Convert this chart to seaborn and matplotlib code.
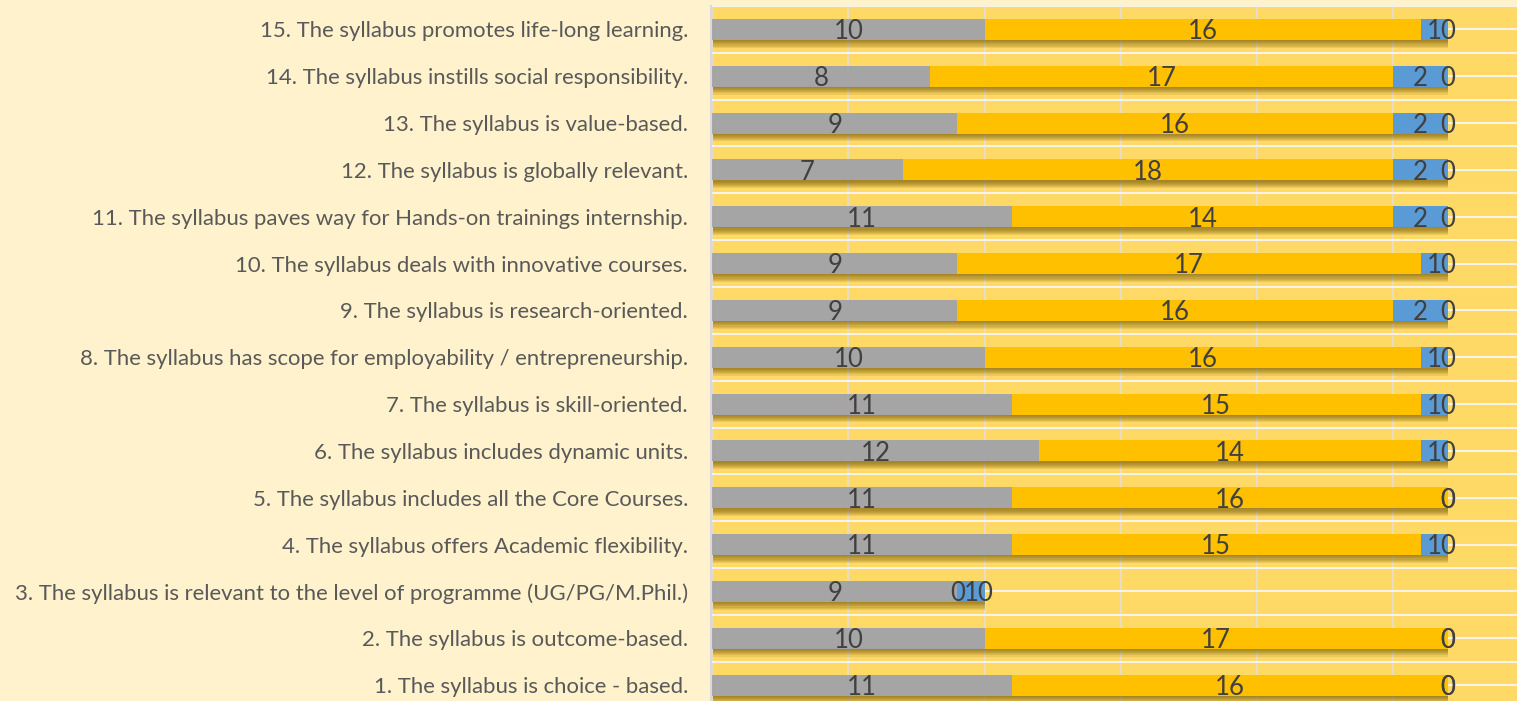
import numpy as np
import pandas as pd
import matplotlib
matplotlib.use('Agg')
import matplotlib.pyplot as plt
import matplotlib.patheffects as pe
import seaborn as sns

# survey statements, top row first
statements = [
    "15. The syllabus promotes life-long learning.",
    "14. The syllabus instills social responsibility.",
    "13. The syllabus is value-based.",
    "12. The syllabus is globally relevant.",
    "11. The syllabus paves way for Hands-on trainings internship.",
    "10. The syllabus deals with innovative courses.",
    "9. The syllabus is research-oriented.",
    "8. The syllabus has scope for employability / entrepreneurship.",
    "7. The syllabus is skill-oriented.",
    "6. The syllabus includes dynamic units.",
    "5. The syllabus includes all the Core Courses.",
    "4. The syllabus offers Academic flexibility.",
    "3. The syllabus is relevant to the level of programme (UG/PG/M.Phil.)",
    "2. The syllabus is outcome-based.",
    "1. The syllabus is choice - based.",
]
strongly_agree = [10, 8, 9, 7, 11, 9, 9, 10, 11, 12, 11, 11, 9, 10, 11]
agree = [16, 17, 16, 18, 14, 17, 16, 16, 15, 14, 16, 15, 0, 17, 16]
neutral = [1, 2, 2, 2, 2, 1, 2, 1, 1, 1, 0, 1, 1, 0, 0]
disagree = [0, 0, 0, 0, 0, 0, 0, 0, 0, 0, 0, 0, 0, 0, 0]

series = ['Strongly Agree', 'Agree', 'Neutral', 'Disagree']
colors = ['#A5A5A5', '#FFC000', '#5B9BD5', '#70AD47']

df = pd.DataFrame({'statement': statements,
                   'Strongly Agree': strongly_agree,
                   'Agree': agree,
                   'Neutral': neutral,
                   'Disagree': disagree})
cum = df[series].cumsum(axis=1)

sns.set_style('white')
plt.rcParams['font.family'] = ['Lato', 'DejaVu Sans']

fig = plt.figure(figsize=(15.17, 7.01), dpi=100, facecolor='#FFF2CC')
ax = fig.add_axes([711 / 1517, -7.5 / 701, 806 / 1517, 702.5 / 701])
ax.set_facecolor('#FFD966')

# soft drop shadow under the bars (several offset copies)
shadow = [pe.SimplePatchShadow(offset=(0.4, -d), shadow_rgbFace='#6e5200', alpha=0.12)
          for d in [0.8, 1.6, 2.4, 3.2, 4.0, 4.8, 5.6]]

# stacked bars: draw the running totals from longest to shortest
for k in range(len(series) - 1, -1, -1):
    n_before = len(ax.patches)
    sns.barplot(x=cum[series[k]], y=df['statement'], order=statements,
                color=colors[k], saturation=1, width=0.45, errorbar=None,
                linewidth=0, edgecolor='none', ax=ax)
    if k == len(series) - 1:
        for p in ax.patches[n_before:]:
            p.set_path_effects(shadow + [pe.Normal()])

# data labels in the middle of each segment
for k, s in enumerate(series):
    start = cum[s] - df[s]
    for i in range(len(df)):
        ax.text(start[i] + df[s][i] / 2, i + 0.05, str(df[s][i]), ha='center', va='center',
                fontsize=18.5, color='#404040')

# ticks first, then limits (set_xticks would widen the view to 30)
ax.set_xticks(range(0, 31, 5))
ax.set_yticks(np.arange(-0.5, 15, 1), minor=True)
ax.set_xlim(-0.04, 29.54)
ax.set_ylim(14.5, -0.5)
ax.grid(axis='y', which='both', color='#F7F3E8', lw=1.5)
ax.grid(axis='x', which='major', color='#E6DEC8', lw=1.4)
ax.set_axisbelow(True)
ax.tick_params(axis='x', length=0, labelbottom=False)
ax.tick_params(axis='y', which='both', length=0, pad=16.5, labelsize=15.9, labelcolor='#595959')
ax.set_xlabel('')
ax.set_ylabel('')
for side in ['top', 'right', 'bottom']:
    ax.spines[side].set_visible(False)
ax.spines['left'].set_color('#D9D9D9')
ax.spines['left'].set_linewidth(1.5)

fig.savefig('out.png', dpi=100, facecolor=fig.get_facecolor())
